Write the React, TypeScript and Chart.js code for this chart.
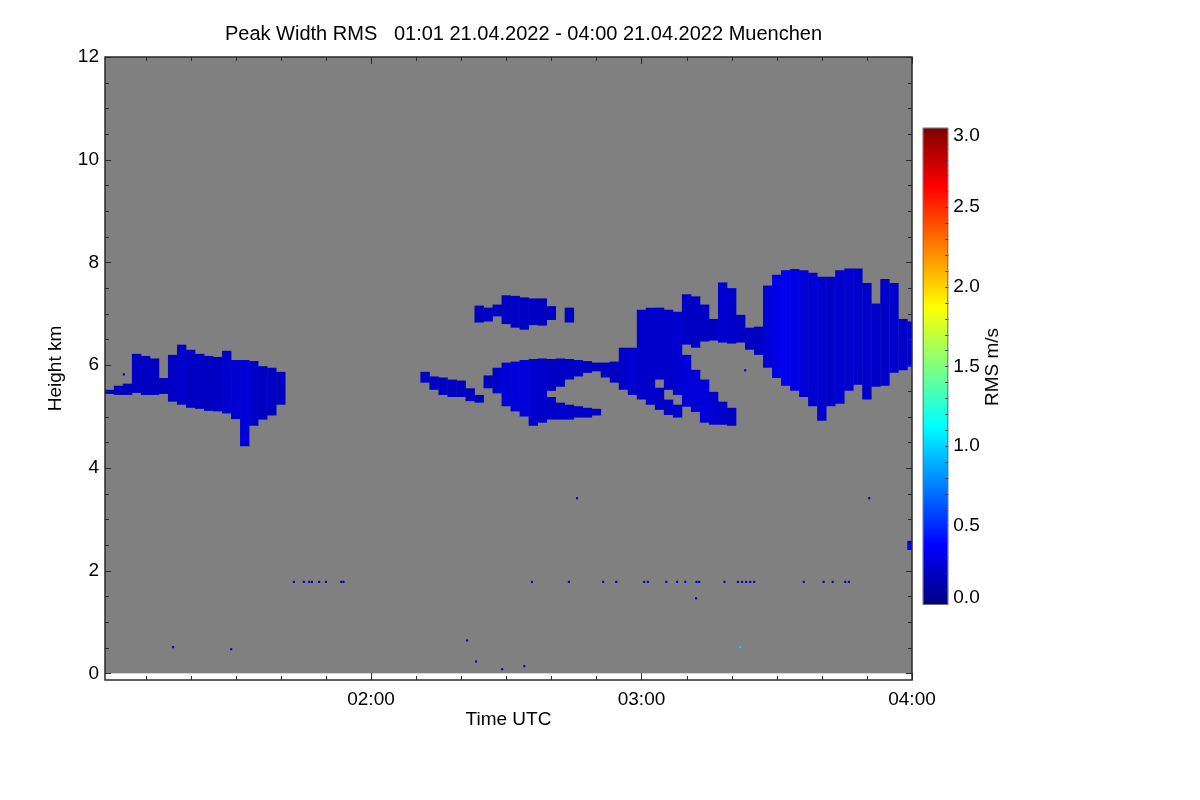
import { useEffect, useRef } from 'react';
import { Chart, registerables } from 'chart.js';

Chart.register(...registerables);

const FONT = '"Liberation Sans", Arial, Helvetica, sans-serif';
Chart.defaults.font.family = FONT;

// ---- texts ----
const TITLE = 'Peak Width RMS   01:01 21.04.2022 - 04:00 21.04.2022 Muenchen';
const X_TITLE = 'Time UTC';
const Y_TITLE = 'Height km';
const CB_TITLE = 'RMS m/s';

// ---- axes (time in minutes after 00:00 UTC, height in km) ----
const TIME_MIN = 61; // 01:01
const TIME_MAX = 240; // 04:00
const HEIGHT_MIN = -0.13;
const HEIGHT_MAX = 12;
const X_TICKS = [120, 180, 240];
const Y_TICKS = [0, 2, 4, 6, 8, 10, 12];
const CB_TICKS = [0, 0.5, 1, 1.5, 2, 2.5, 3];
const CB_RANGE = [0, 3];

// jet colour table stops: [fraction, r, g, b]
const JET_STOPS: [number, number, number, number][] = [
  [0, 0, 0, 128],
  [0.125, 0, 0, 255],
  [0.375, 0, 255, 255],
  [0.625, 255, 255, 0],
  [0.875, 255, 0, 0],
  [1, 128, 0, 0],
];

// ---- cloud layers: [time (min), base (km), top (km), RMS (m/s)] per 2-min profile ----
const CLOUD_A: [number, number, number, number][] = [
  [62, 5.44, 5.52, 0.19], [64, 5.42, 5.6, 0.19], [66, 5.42, 5.64, 0.2], [68, 5.46, 6.22, 0.2],
  [70, 5.42, 6.18, 0.2], [72, 5.42, 6.13, 0.19], [74, 5.44, 5.75, 0.19], [76, 5.29, 6.2, 0.2],
  [78, 5.23, 6.4, 0.22], [80, 5.17, 6.3, 0.2], [82, 5.15, 6.22, 0.2], [84, 5.11, 6.18, 0.19],
  [86, 5.1, 6.16, 0.2], [88, 5.06, 6.28, 0.22], [90, 4.95, 6.1, 0.24], [92, 4.42, 6.1, 0.26],
  [94, 4.82, 6.08, 0.22], [96, 4.94, 5.98, 0.2], [98, 5.02, 5.95, 0.2], [100, 5.23, 5.87, 0.2],
];
const CLOUD_B: [number, number, number, number][] = [
  [132, 5.66, 5.87, 0.2], [134, 5.52, 5.78, 0.2], [136, 5.42, 5.76, 0.2], [138, 5.38, 5.72, 0.19],
  [140, 5.38, 5.7, 0.19], [142, 5.3, 5.55, 0.19], [144, 5.27, 5.42, 0.19],
];
const CLOUD_C: [number, number, number, number][] = [
  [144, 6.83, 7.16, 0.19], [146, 6.85, 7.12, 0.19], [148, 6.95, 7.18, 0.2], [150, 6.8, 7.36, 0.2],
  [152, 6.73, 7.35, 0.2], [154, 6.69, 7.32, 0.2], [156, 6.78, 7.3, 0.2], [158, 6.77, 7.3, 0.19],
  [160, 6.88, 7.15, 0.19], [164, 6.83, 7.12, 0.19],
];
const CLOUD_D: [number, number, number, number][] = [
  [146, 5.55, 5.8, 0.2], [148, 5.45, 5.95, 0.22], [150, 5.2, 6.05, 0.26], [152, 5.1, 6.07, 0.28],
  [154, 5.0, 6.1, 0.26], [156, 4.82, 6.12, 0.24], [158, 4.88, 6.13, 0.22], [160, 5.5, 6.12, 0.2],
  [162, 5.58, 6.13, 0.2], [164, 5.72, 6.12, 0.2], [166, 5.78, 6.1, 0.2], [168, 5.85, 6.08, 0.2],
  [170, 5.88, 6.05, 0.2],
];
const CLOUD_D_LOW: [number, number, number, number][] = [
  [160, 4.94, 5.38, 0.22], [162, 4.94, 5.27, 0.22], [164, 4.94, 5.23, 0.22], [166, 4.98, 5.2, 0.22],
  [168, 4.98, 5.17, 0.22], [170, 5.02, 5.15, 0.2],
];
const CLOUD_E: [number, number, number, number][] = [
  [172, 5.76, 6.05, 0.2], [174, 5.66, 6.07, 0.2], [176, 5.52, 6.34, 0.22], [178, 5.42, 6.34, 0.24],
  [180, 5.33, 7.08, 0.22], [182, 5.23, 7.12, 0.22], [184, 5.72, 7.12, 0.22], [186, 5.52, 7.08, 0.22],
  [188, 5.42, 7.04, 0.24], [190, 5.19, 6.2, 0.26], [192, 5.09, 5.91, 0.26], [194, 4.88, 5.72, 0.26],
  [196, 4.84, 5.48, 0.24], [198, 4.84, 5.29, 0.22], [200, 4.82, 5.17, 0.2],
];
const CLOUD_E_LOW: [number, number, number, number][] = [
  [184, 5.13, 5.56, 0.22], [186, 5.03, 5.33, 0.22], [188, 4.98, 5.23, 0.22],
];
const CLOUD_F: [number, number, number, number][] = [
  [190, 6.4, 7.38, 0.2], [192, 6.34, 7.34, 0.2], [194, 6.46, 7.18, 0.2], [196, 6.48, 6.9, 0.2],
  [198, 6.44, 7.61, 0.24], [200, 6.42, 7.5, 0.22], [202, 6.44, 6.98, 0.2], [204, 6.3, 6.73, 0.2],
  [206, 6.2, 6.75, 0.2],
];
const CLOUD_G: [number, number, number, number][] = [
  [208, 5.95, 7.55, 0.26], [210, 5.75, 7.76, 0.3], [212, 5.6, 7.85, 0.34], [214, 5.5, 7.87, 0.3],
  [216, 5.38, 7.85, 0.26], [218, 5.2, 7.8, 0.24], [220, 4.92, 7.72, 0.24], [222, 5.2, 7.72, 0.22],
  [224, 5.25, 7.85, 0.24], [226, 5.5, 7.88, 0.24], [228, 5.62, 7.88, 0.22], [230, 5.33, 7.6, 0.22],
  [232, 5.58, 7.2, 0.22], [234, 5.6, 7.68, 0.22], [236, 5.85, 7.6, 0.22], [238, 5.9, 6.9, 0.22],
  [240, 5.97, 6.85, 0.22],
];
const CLOUD_H: [number, number, number, number][] = [[240, 2.4, 2.58, 0.26]];

// isolated single-gate echoes: [time (min), height (km), RMS (m/s)]
const ECHOES: [number, number, number][] = [
  [102.9, 1.78, 0.2], [105.1, 1.78, 0.2], [106.3, 1.78, 0.2], [106.9, 1.78, 0.2], [108.5, 1.78, 0.2],
  [110.0, 1.78, 0.2], [113.4, 1.78, 0.2], [113.9, 1.78, 0.2], [155.7, 1.78, 0.2], [163.9, 1.78, 0.2],
  [171.5, 1.78, 0.2], [174.4, 1.78, 0.2], [180.6, 1.78, 0.2], [181.4, 1.78, 0.2], [185.5, 1.78, 0.2],
  [187.9, 1.78, 0.2], [189.7, 1.78, 0.2], [192.2, 1.78, 0.2], [192.8, 1.78, 0.2], [198.4, 1.78, 0.2],
  [201.4, 1.78, 0.2], [202.3, 1.78, 0.2], [203.2, 1.78, 0.2], [204.1, 1.78, 0.2], [205.0, 1.78, 0.2],
  [216.0, 1.78, 0.2], [220.4, 1.78, 0.2], [222.4, 1.78, 0.2], [225.2, 1.78, 0.2], [226.0, 1.78, 0.2],
  [76.1, 0.51, 0.2], [89.0, 0.47, 0.25], [141.3, 0.64, 0.2], [143.3, 0.23, 0.2], [149.1, 0.08, 0.25],
  [154.0, 0.14, 0.2], [192.1, 1.46, 0.25], [201.9, 0.51, 1.0], [165.7, 3.41, 0.2], [230.5, 3.41, 0.2],
  [203.0, 5.9, 0.2], [65.2, 5.82, 0.2],
];

const LAYERS = [CLOUD_A, CLOUD_B, CLOUD_C, CLOUD_D, CLOUD_D_LOW, CLOUD_E, CLOUD_E_LOW, CLOUD_F, CLOUD_G, CLOUD_H];

function jet(v: number): string {
  const f = Math.min(1, Math.max(0, (v - CB_RANGE[0]) / (CB_RANGE[1] - CB_RANGE[0])));
  for (let i = 1; i < JET_STOPS.length; i++) {
    const a = JET_STOPS[i - 1];
    const b = JET_STOPS[i];
    if (f <= b[0]) {
      const t = (f - a[0]) / (b[0] - a[0]);
      const r = Math.round(a[1] + (b[1] - a[1]) * t);
      const g = Math.round(a[2] + (b[2] - a[2]) * t);
      const bl = Math.round(a[3] + (b[3] - a[3]) * t);
      return `rgb(${r},${g},${bl})`;
    }
  }
  return 'rgb(128,0,0)';
}

function hhmm(v: number): string {
  const h = Math.floor(v / 60);
  const m = Math.round(v % 60);
  return `${String(h).padStart(2, '0')}:${String(m).padStart(2, '0')}`;
}

const plotFrame = {
  id: 'plotFrame',
  beforeDatasetsDraw(chart: any) {
    const { ctx, chartArea: a, scales } = chart;
    const y = scales.y;
    const top = y.getPixelForValue(HEIGHT_MAX);
    const bot = y.getPixelForValue(0);
    ctx.save();
    ctx.fillStyle = '#808080';
    ctx.fillRect(a.left, top, a.right - a.left, bot - top);
    ctx.restore();
  },
  afterDatasetsDraw(chart: any) {
    const { ctx, chartArea: a, scales } = chart;
    const x = scales.x;
    const y = scales.y;
    ctx.save();
    ctx.strokeStyle = '#2a2a2a';
    ctx.lineWidth = 1;
    ctx.beginPath();
    for (let t = 70; t <= TIME_MAX; t += 10) {
      const px = Math.round(x.getPixelForValue(t)) + 0.5;
      const len = t % 60 === 0 ? 7 : 4;
      ctx.moveTo(px, a.bottom);
      ctx.lineTo(px, a.bottom - len);
      ctx.moveTo(px, a.top);
      ctx.lineTo(px, a.top + len);
    }
    for (let h = 0; h <= HEIGHT_MAX; h += 0.5) {
      const py = Math.round(y.getPixelForValue(h)) + 0.5;
      const len = h % 2 === 0 ? 6 : 4;
      ctx.moveTo(a.left, py);
      ctx.lineTo(a.left + len, py);
      ctx.moveTo(a.right, py);
      ctx.lineTo(a.right - len, py);
    }
    ctx.stroke();
    ctx.lineWidth = 1.5;
    ctx.strokeRect(a.left, a.top, a.right - a.left, a.bottom - a.top);
    ctx.restore();
  },
};

const cbFrame = {
  id: 'cbFrame',
  afterDraw(chart: any) {
    const { ctx, chartArea: a, scales } = chart;
    const y = scales.y;
    ctx.save();
    ctx.strokeStyle = '#333';
    ctx.lineWidth = 1;
    ctx.beginPath();
    for (let k = 1; k < 30; k++) {
      const py = Math.round(y.getPixelForValue(k / 10)) + 0.5;
      ctx.moveTo(a.right, py);
      ctx.lineTo(a.right - 3, py);
    }
    ctx.stroke();
    ctx.strokeStyle = '#707070';
    ctx.strokeRect(a.left + 0.5, a.top + 0.5, a.right - a.left - 1, a.bottom - a.top - 1);
    ctx.fillStyle = '#000';
    ctx.font = `19px ${FONT}`;
    ctx.textAlign = 'left';
    ctx.textBaseline = 'alphabetic';
    ctx.fillText(CB_RANGE[1].toFixed(1), a.right + 5, y.getPixelForValue(CB_RANGE[1]) + 13);
    ctx.fillText(CB_RANGE[0].toFixed(1), a.right + 5, y.getPixelForValue(CB_RANGE[0]) - 2);
    ctx.restore();
  },
};

export default function App() {
  const mainRef = useRef<HTMLCanvasElement>(null);
  const cbRef = useRef<HTMLCanvasElement>(null);

  useEffect(() => {
    document.body.style.margin = '0';
    const barSets = LAYERS.map((layer) => ({
      type: 'bar',
      data: layer.map(([t, b, top, r]) => ({ x: t, y: [b, top], rms: r })),
      backgroundColor: (c: any) => jet(c.raw && c.raw.rms !== undefined ? c.raw.rms : 0.2),
      borderWidth: 0,
      grouped: false,
      barPercentage: 1.04,
      categoryPercentage: 1,
    }));
    const echoSet = {
      type: 'scatter',
      data: ECHOES.map(([t, h, r]) => ({ x: t, y: h, rms: r })),
      pointStyle: 'rect',
      pointRadius: 1.5,
      pointBorderWidth: 0,
      borderColor: 'rgba(0,0,0,0)',
      backgroundColor: (c: any) => jet(c.raw && c.raw.rms !== undefined ? c.raw.rms : 0.2),
    };

    const main = new Chart(mainRef.current as HTMLCanvasElement, {
      type: 'bar',
      data: { datasets: [...barSets, echoSet] as any },
      options: {
        animation: false,
        responsive: false,
        layout: { padding: { left: 0, right: 288, top: 57, bottom: 0 } },
        plugins: { legend: { display: false }, tooltip: { enabled: false }, title: { display: false } },
        scales: {
          x: {
            type: 'linear',
            min: TIME_MIN,
            max: TIME_MAX,
            offset: false,
            grid: { display: false, drawTicks: false },
            border: { display: false },
            afterBuildTicks: (s: any) => { s.ticks = X_TICKS.map((v) => ({ value: v })); },
            afterFit: (s: any) => { s.height = 120; },
            ticks: {
              font: { size: 19 },
              color: '#000',
              padding: 8,
              maxRotation: 0,
              autoSkip: false,
              callback: (v: any) => hhmm(Number(v)),
            },
            title: { display: true, text: X_TITLE, font: { size: 19 }, color: '#000', padding: { top: 0, bottom: 69 } },
          },
          y: {
            type: 'linear',
            min: HEIGHT_MIN,
            max: HEIGHT_MAX,
            grid: { display: false, drawTicks: false },
            border: { display: false },
            afterBuildTicks: (s: any) => { s.ticks = Y_TICKS.map((v) => ({ value: v })); },
            afterFit: (s: any) => { s.width = 105; },
            ticks: { font: { size: 19 }, color: '#000', padding: 6, callback: (v: any) => String(v) },
            title: { display: true, text: Y_TITLE, font: { size: 19 }, color: '#000', padding: { top: 44.6, bottom: 0 } },
          },
        },
      } as any,
      plugins: [plotFrame],
    });

    const cb = new Chart(cbRef.current as HTMLCanvasElement, {
      type: 'bar',
      data: {
        labels: [CB_TITLE],
        datasets: [
          {
            data: [[CB_RANGE[0], CB_RANGE[1]]] as any,
            backgroundColor: (c: any) => {
              const ch = c.chart;
              const ys = ch.scales && ch.scales.y;
              if (!ch.chartArea || !ys) return '#000080';
              const g = ch.ctx.createLinearGradient(0, ys.getPixelForValue(CB_RANGE[0]), 0, ys.getPixelForValue(CB_RANGE[1]));
              JET_STOPS.forEach(([p, r, gg, b]) => g.addColorStop(p, `rgb(${r},${gg},${b})`));
              return g;
            },
            borderWidth: 0,
            barPercentage: 1,
            categoryPercentage: 1,
          },
        ],
      },
      options: {
        animation: false,
        responsive: false,
        layout: { padding: { left: 22.7, right: 0, top: 27.7, bottom: 35 } },
        plugins: { legend: { display: false }, tooltip: { enabled: false } },
        scales: {
          x: { display: false },
          y: {
            position: 'right',
            min: CB_RANGE[0],
            max: CB_RANGE[1],
            grid: { display: false, drawTicks: false },
            border: { display: false },
            afterBuildTicks: (s: any) => { s.ticks = CB_TICKS.map((v) => ({ value: v })); },
            afterFit: (s: any) => { s.width = 81.7; },
            ticks: {
              font: { size: 19 },
              color: '#000',
              padding: 5,
              callback: (v: any) => (Number(v) === CB_RANGE[0] || Number(v) === CB_RANGE[1] ? '' : Number(v).toFixed(1)),
            },
          },
        },
      } as any,
      plugins: [cbFrame],
    });

    return () => {
      main.destroy();
      cb.destroy();
    };
  }, []);

  return (
    <div style={{ position: 'relative', width: 1200, height: 800, background: '#fff', fontFamily: FONT }}>
      <canvas ref={mainRef} width={1200} height={800} style={{ position: 'absolute', left: 0, top: 0 }} />
      <canvas ref={cbRef} width={130} height={540} style={{ position: 'absolute', left: 900, top: 100 }} />
      <div
        style={{
          position: 'absolute',
          left: 0,
          top: 22,
          width: 1047,
          textAlign: 'center',
          fontSize: 20,
          whiteSpace: 'pre',
          color: '#000',
        }}
      >
        {TITLE}
      </div>
      <div
        style={{
          position: 'absolute',
          left: 992,
          top: 367,
          transform: 'translate(-50%, -50%) rotate(-90deg)',
          fontSize: 19,
          whiteSpace: 'nowrap',
          color: '#000',
        }}
      >
        {CB_TITLE}
      </div>
    </div>
  );
}
